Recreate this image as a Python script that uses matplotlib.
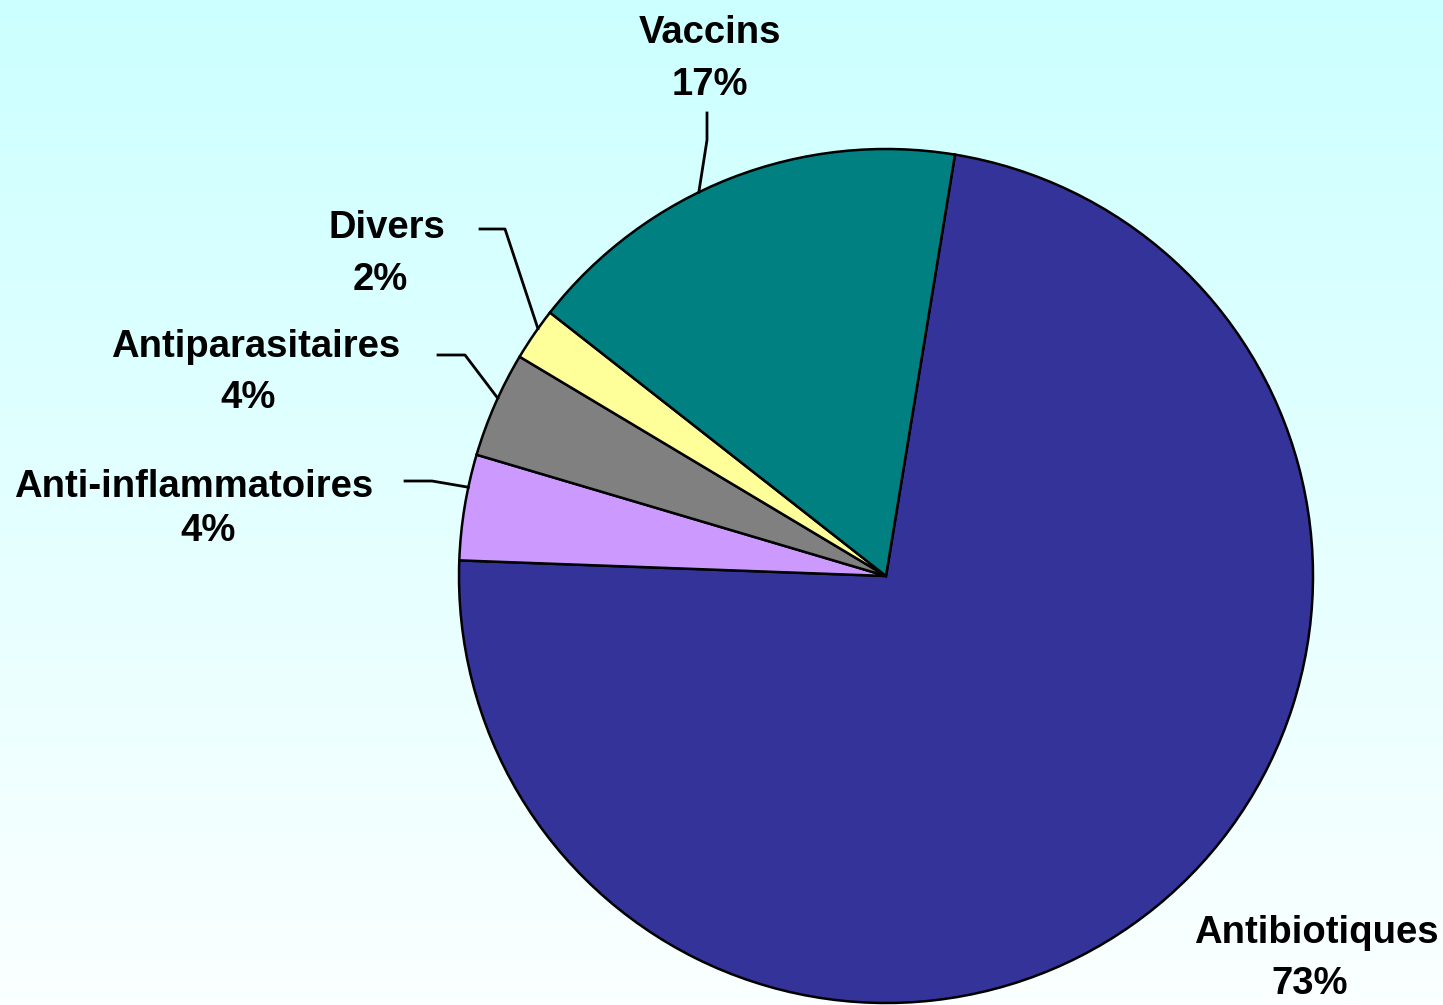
import numpy as np
import matplotlib
matplotlib.use("Agg")
from matplotlib import pyplot as plt
from matplotlib.colors import LinearSegmentedColormap

# Données (sens horaire à partir de Antibiotiques)
categories = ["Antibiotiques", "Anti-inflammatoires", "Antiparasitaires", "Divers", "Vaccins"]
valeurs = [73, 4, 4, 2, 17]
couleurs = ["#333399", "#cc99ff", "#808080", "#ffff99", "#008080"]

W, H = 1443, 1005
cx, cy, r = 886, H - 576, 427
start = 80.7

fig = plt.figure(figsize=(W / 100, H / 100), dpi=100)
ax = fig.add_axes([0, 0, 1, 1])

# fond dégradé cyan clair -> blanc
cmap = LinearSegmentedColormap.from_list("fond", ["#fbffff", "#ccffff"])
grad = np.linspace(0, 1, 256).reshape(-1, 1)
ax.imshow(grad, cmap=cmap, extent=(0, W, 0, H), origin="lower", aspect="auto", zorder=0)

wedges, _ = ax.pie(valeurs, colors=couleurs, startangle=start, counterclock=False,
                   center=(cx, cy), radius=r,
                   wedgeprops=dict(edgecolor="black", linewidth=1.8))
for w in wedges:
    w.set_zorder(2)

ax.set_xlim(0, W)
ax.set_ylim(0, H)
ax.set_aspect("auto")
ax.axis("off")

# positions (ligne de base) du nom et du pourcentage
pos_nom = {
    "Antibiotiques": (1316, 943),
    "Anti-inflammatoires": (194, 497),
    "Antiparasitaires": (256, 357),
    "Divers": (387, 238),
    "Vaccins": (710, 43),
}
pos_pct = {
    "Antibiotiques": (1310, 994),
    "Anti-inflammatoires": (208, 541),
    "Antiparasitaires": (248, 408),
    "Divers": (380, 290),
    "Vaccins": (710, 95),
}
# traits de rappel : début, coude, décalage d'angle sur le bord
rappel = {
    "Anti-inflammatoires": ([(405, 481), (432, 481)], -2.7),
    "Antiparasitaires": ([(438, 355), (465, 355)], -0.9),
    "Divers": ([(480, 229), (505, 229)], -0.9),
    "Vaccins": ([(707, 113), (707, 140)], 4.7),
}

style = dict(ha="center", va="baseline", fontsize=27.5, fontweight="bold",
             family="Liberation Sans", color="black", zorder=4)

for w, cat, val in zip(wedges, categories, valeurs):
    x, y = pos_nom[cat]
    ax.text(x, H - y, cat, **style)
    x, y = pos_pct[cat]
    ax.text(x, H - y, f"{val}%", **style)
    if cat in rappel:
        pts, dang = rappel[cat]
        ang = np.deg2rad((w.theta1 + w.theta2) / 2 + dang)
        px, py = cx + r * np.cos(ang), cy + r * np.sin(ang)
        xs = [p[0] for p in pts] + [px]
        ys = [H - p[1] for p in pts] + [py]
        ax.plot(xs, ys, color="black", lw=2, zorder=3)

fig.savefig("out.png", dpi=100)
